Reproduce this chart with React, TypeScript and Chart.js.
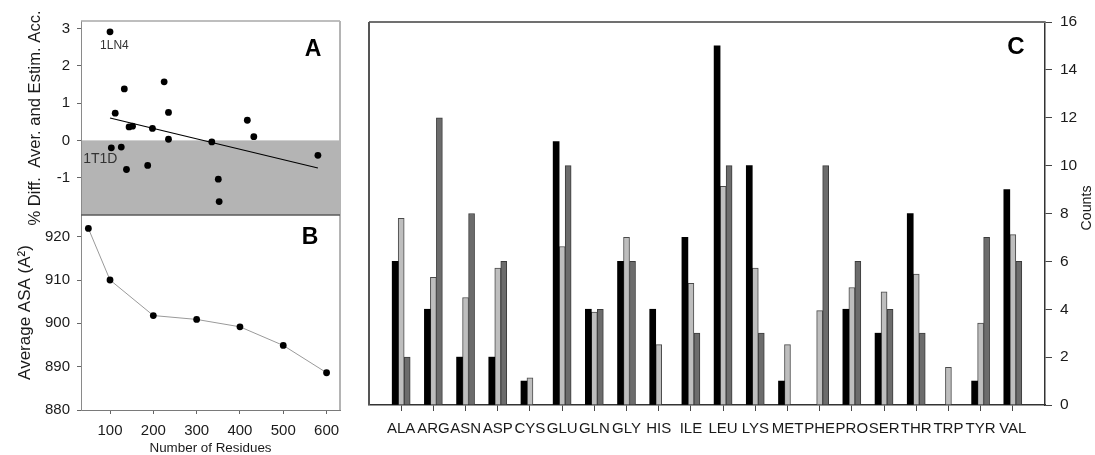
import React, { useEffect, useRef } from 'react';
import { Chart, registerables } from 'chart.js';

Chart.register(...registerables);

// ---------- Panel A data ----------
const residuesA = [100, 112, 133, 144, 152, 198, 225, 235, 235, 103, 126, 138, 187, 335, 350, 352, 417, 432, 580];
const diffA = [2.91, 0.73, 1.38, 0.36, 0.38, 0.32, 1.57, 0.75, 0.03, -0.2, -0.18, -0.78, -0.67, -0.04, -1.04, -1.64, 0.54, 0.1, -0.4];
const fitResidues = [100, 580];
const fitDiff = [0.6, -0.74];
const yTicksA = [-1, 0, 1, 2, 3];

// ---------- Panel B data ----------
const residuesB = [50, 100, 200, 300, 400, 500, 600];
const asaB = [921.9, 910.0, 901.8, 900.9, 899.2, 894.9, 888.6];
const yTicksB = [880, 890, 900, 910, 920];
const xTicksAB = [100, 200, 300, 400, 500, 600];

// ---------- Panel C data ----------
const aminoAcids = ['ALA', 'ARG', 'ASN', 'ASP', 'CYS', 'GLU', 'GLN', 'GLY', 'HIS', 'ILE', 'LEU', 'LYS', 'MET', 'PHE', 'PRO', 'SER', 'THR', 'TRP', 'TYR', 'VAL'];
const countsBlack = [6, 4, 2, 2, 1, 11, 4, 6, 4, 7, 15, 10, 1, null, 4, 3, 8, null, 1, 9];
const countsLight = [7.8, 5.33, 4.49, 5.72, 1.13, 6.62, 3.88, 7.0, 2.52, 5.08, 9.13, 5.72, 2.52, 3.94, 4.91, 4.73, 5.47, 1.57, 3.42, 7.12];
const countsDark = [2, 12, 8, 6, null, 10, 4, 6, null, 3, 10, 3, null, 10, 6, 4, 3, null, 7, 6];
const countTicks = [0, 2, 4, 6, 8, 10, 12, 14, 16];

const FONT = "'Liberation Sans', Arial, Helvetica, sans-serif";
const TXT = '#1a1a1a';

const framePlugin = {
  id: 'frame',
  afterDraw(chart: any, _a: any, opts: any) {
    const { ctx, chartArea } = chart;
    const { left, right, top, bottom } = chartArea;
    ctx.save();
    for (const ln of opts.lines || []) {
      ctx.strokeStyle = ln.color;
      ctx.lineWidth = ln.width;
      ctx.beginPath();
      if (ln.side === 'top') { ctx.moveTo(left, top); ctx.lineTo(right, top); }
      if (ln.side === 'bottom') { ctx.moveTo(left, bottom); ctx.lineTo(right, bottom); }
      if (ln.side === 'left') { ctx.moveTo(left, top); ctx.lineTo(left, bottom); }
      if (ln.side === 'right') { ctx.moveTo(right, top); ctx.lineTo(right, bottom); }
      ctx.stroke();
    }
    ctx.restore();
  },
};

const bandPlugin = {
  id: 'band',
  beforeDraw(chart: any, _a: any, opts: any) {
    if (!opts || opts.from === undefined) return;
    const { ctx, chartArea, scales } = chart;
    const y0 = scales.y.getPixelForValue(opts.from);
    ctx.save();
    ctx.fillStyle = opts.color;
    ctx.fillRect(chartArea.left, y0, chartArea.right - chartArea.left, chartArea.bottom - y0);
    ctx.restore();
  },
};

const textPlugin = {
  id: 'texts',
  afterDraw(chart: any, _a: any, opts: any) {
    const { ctx, scales } = chart;
    ctx.save();
    for (const it of opts.items || []) {
      let px = it.x;
      let py = it.y;
      if (it.space === 'data') {
        px = scales.x.getPixelForValue(it.x);
        py = scales.y.getPixelForValue(it.y);
      }
      ctx.font = it.font;
      ctx.fillStyle = it.color || TXT;
      ctx.textAlign = it.align || 'center';
      ctx.textBaseline = 'middle';
      ctx.translate(px, py);
      if (it.rotate) ctx.rotate(it.rotate);
      ctx.fillText(it.text, 0, 0);
      ctx.setTransform(1, 0, 0, 1, 0, 0);
    }
    ctx.restore();
  },
};

const setTicks = (vals: number[]) => (axis: any) => {
  axis.ticks = vals.map((v) => ({ value: v }));
};

function configA(): any {
  return {
    type: 'scatter',
    data: {
      datasets: [
        {
          data: residuesA.map((x, i) => ({ x, y: diffA[i] })),
          pointRadius: 3.4,
          pointBackgroundColor: '#000',
          pointBorderWidth: 0,
          showLine: false,
        },
        {
          data: fitResidues.map((x, i) => ({ x, y: fitDiff[i] })),
          showLine: true,
          borderColor: '#000',
          borderWidth: 1.2,
          pointRadius: 0,
        },
      ],
    },
    options: {
      animation: false,
      responsive: false,
      devicePixelRatio: 1,
      layout: { padding: { left: 0, right: 30, top: 21, bottom: 25 } },
      plugins: {
        legend: { display: false },
        tooltip: { enabled: false },
        band: { from: 0, color: '#b4b4b4' },
        frame: {
          lines: [
            { side: 'top', color: '#a8a8a8', width: 1.5 },
            { side: 'right', color: '#b4b4b4', width: 2 },
            { side: 'bottom', color: '#5a5a5a', width: 1.5 },
          ],
        },
        texts: {
          items: [
            { text: 'A', x: 313, y: 50, font: `bold 23px ${FONT}`, color: '#000' },
            { text: '1LN4', x: 77, y: 2.53, space: 'data', font: `12px ${FONT}`, align: 'left', color: '#333' },
            { text: '1T1D', x: 38, y: -0.5, space: 'data', font: `14px ${FONT}`, align: 'left', color: '#333' },
          ],
        },
      },
      scales: {
        x: { type: 'linear', min: 33, max: 631, display: false },
        y: {
          type: 'linear',
          min: -2,
          max: 3.2,
          afterBuildTicks: setTicks(yTicksA),
          afterFit: (s: any) => { s.width = 81; },
          grid: { drawOnChartArea: false, tickLength: 4, color: '#666' },
          border: { display: true, color: '#8a8a8a', width: 1 },
          ticks: { padding: 7, color: TXT, font: { family: FONT, size: 15 } },
          title: {
            display: true,
            text: '% Diff.  Aver. and Estim. Acc.',
            color: TXT,
            font: { family: FONT, size: 16.6 },
            padding: { top: 25, bottom: 0 },
          },
        },
      },
    },
    plugins: [bandPlugin, framePlugin, textPlugin],
  };
}

function configB(): any {
  return {
    type: 'scatter',
    data: {
      datasets: [
        {
          data: residuesB.map((x, i) => ({ x, y: asaB[i] })),
          showLine: true,
          borderColor: '#9a9a9a',
          borderWidth: 1,
          pointRadius: 3.4,
          pointBackgroundColor: '#000',
          pointBorderWidth: 0,
        },
      ],
    },
    options: {
      animation: false,
      responsive: false,
      devicePixelRatio: 1,
      layout: { padding: { left: 0, right: 30, top: 20, bottom: 0 } },
      plugins: {
        legend: { display: false },
        tooltip: { enabled: false },
        frame: { lines: [{ side: 'right', color: '#b4b4b4', width: 2 }] },
        texts: { items: [{ text: 'B', x: 310, y: 42.5, font: `bold 23px ${FONT}`, color: '#000' }] },
      },
      scales: {
        x: {
          type: 'linear',
          min: 33,
          max: 631,
          afterBuildTicks: setTicks(xTicksAB),
          afterFit: (s: any) => { s.height = 45; },
          grid: { drawOnChartArea: false, tickLength: 4, color: '#666' },
          border: { display: true, color: '#7a7a7a', width: 1 },
          ticks: { padding: 8, color: TXT, font: { family: FONT, size: 15 }, maxRotation: 0 },
          title: {
            display: true,
            text: 'Number of Residues',
            color: TXT,
            font: { family: FONT, size: 13.4, lineHeight: 1 },
            padding: { top: 0, bottom: 0 },
          },
        },
        y: {
          type: 'linear',
          min: 880,
          max: 925,
          afterBuildTicks: setTicks(yTicksB),
          afterFit: (s: any) => { s.width = 81; },
          grid: { drawOnChartArea: false, tickLength: 4, color: '#666' },
          border: { display: true, color: '#8a8a8a', width: 1 },
          ticks: { padding: 7, color: TXT, font: { family: FONT, size: 15 } },
          title: {
            display: true,
            text: 'Average ASA (A\u00B2)',
            color: TXT,
            font: { family: FONT, size: 17 },
            padding: { top: 15, bottom: 0 },
          },
        },
      },
    },
    plugins: [framePlugin, textPlugin],
  };
}

function configC(): any {
  const labels = ['', ...aminoAcids, ''];
  const pad = (arr: (number | null)[]) => [null, ...arr, null];
  const last = labels.length - 1;
  return {
    type: 'bar',
    data: {
      labels,
      datasets: [
        { data: pad(countsBlack), backgroundColor: '#000', borderColor: '#000', borderWidth: 0 },
        { data: pad(countsLight), backgroundColor: '#bebebe', borderColor: '#4a4a4a', borderWidth: 1 },
        { data: pad(countsDark), backgroundColor: '#6c6c6c', borderColor: '#3c3c3c', borderWidth: 1 },
      ],
    },
    options: {
      animation: false,
      responsive: false,
      devicePixelRatio: 1,
      barThickness: 6,
      layout: { padding: { left: 7, right: 0, top: 22, bottom: 0 } },
      plugins: {
        legend: { display: false },
        tooltip: { enabled: false },
        frame: {
          lines: [
            { side: 'top', color: '#707070', width: 2 },
            { side: 'left', color: '#555', width: 2 },
          ],
        },
        texts: {
          items: [
            { text: 'C', x: 656, y: 47.5, font: `bold 24px ${FONT}`, color: '#000' },
            { text: 'Counts', x: 727, y: 208, rotate: -Math.PI / 2, font: `14.2px ${FONT}` },
          ],
        },
      },
      scales: {
        x: {
          type: 'category',
          offset: false,
          afterFit: (s: any) => { s.height = 50; },
          grid: {
            offset: false,
            drawOnChartArea: false,
            tickLength: 6,
            tickColor: (c: any) => (c.index === 0 || c.index === last ? 'rgba(0,0,0,0)' : '#444'),
          },
          border: { display: true, color: '#333', width: 1.5 },
          ticks: { padding: 9, color: TXT, autoSkip: false, maxRotation: 0, minRotation: 0, font: { family: FONT, size: 15 } },
        },
        y: {
          type: 'linear',
          position: 'right',
          min: 0,
          max: 16,
          afterBuildTicks: setTicks(countTicks),
          afterFit: (s: any) => { s.width = 50; },
          grid: { drawOnChartArea: false, tickLength: 7, color: '#444' },
          border: { display: true, color: '#333', width: 1.5 },
          ticks: { padding: 8, color: TXT, font: { family: FONT, size: 15.5 } },
        },
      },
    },
    plugins: [framePlugin, textPlugin],
  };
}

export default function App() {
  const aRef = useRef<HTMLCanvasElement>(null);
  const bRef = useRef<HTMLCanvasElement>(null);
  const cRef = useRef<HTMLCanvasElement>(null);

  useEffect(() => {
    document.body.style.margin = '0';
    const charts = [
      new Chart(cRef.current as HTMLCanvasElement, configC()),
      new Chart(bRef.current as HTMLCanvasElement, configB()),
      new Chart(aRef.current as HTMLCanvasElement, configA()),
    ];
    return () => charts.forEach((c) => c.destroy());
  }, []);

  return (
    <div style={{ position: 'fixed', left: 0, top: 0, width: 1095, height: 455, background: '#fff', overflow: 'hidden' }}>
      <canvas ref={cRef} width={735} height={455} style={{ position: 'absolute', left: 360, top: 0 }} />
      <canvas ref={bRef} width={370} height={260} style={{ position: 'absolute', left: 0, top: 195 }} />
      <canvas ref={aRef} width={370} height={240} style={{ position: 'absolute', left: 0, top: 0 }} />
    </div>
  );
}
